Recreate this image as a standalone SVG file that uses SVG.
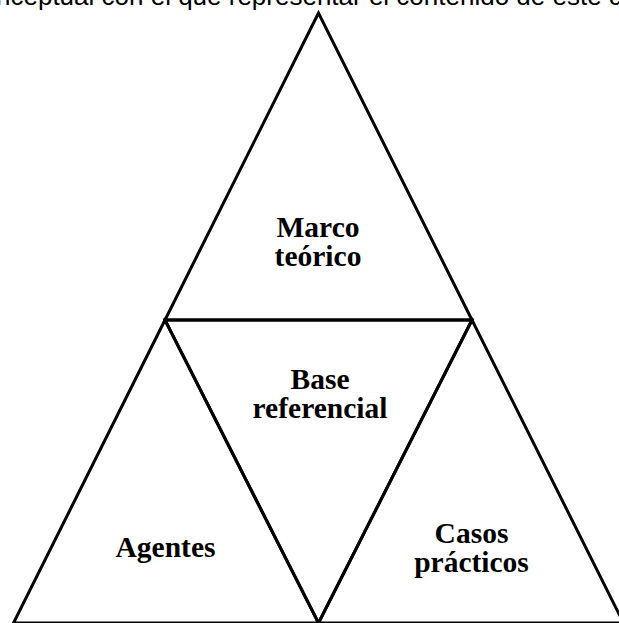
<svg xmlns="http://www.w3.org/2000/svg" width="619" height="623" viewBox="0 0 619 623">
<style>
.shape{fill:none;stroke:#000;stroke-width:3;stroke-linejoin:miter;stroke-miterlimit:10}
.lbl{font-family:"Liberation Serif","Times New Roman",serif;font-weight:bold;font-size:29.5px;fill:#000;text-anchor:middle}
.cap{font-family:"Liberation Sans",Arial,sans-serif;font-size:26px;fill:#000}
</style>
<rect width="619" height="623" fill="#fff"/>
<g id="caption"><text class="cap" x="-4" y="4.5">nceptual con el que representar el contenido de este c</text></g>
<g id="connectors"></g>
<g id="marco-teorico">
<polygon class="shape" points="318.5,13 165,320 472,320"/>
<text class="lbl" x="318" y="237">Marco</text>
<text class="lbl" x="318" y="266">teórico</text>
</g>
<g id="base-referencial">
<polygon class="shape" points="165,320 472,320 318.5,623"/>
<text class="lbl" x="320" y="389">Base</text>
<text class="lbl" x="320" y="418">referencial</text>
</g>
<g id="agentes">
<polygon class="shape" points="165,320 13.5,623 318.5,623"/>
<text class="lbl" x="165.5" y="557">Agentes</text>
</g>
<g id="casos-practicos">
<polygon class="shape" points="472,320 318.5,623 623.5,623"/>
<text class="lbl" x="471.5" y="543">Casos</text>
<text class="lbl" x="471.5" y="572">prácticos</text>
</g>
</svg>
